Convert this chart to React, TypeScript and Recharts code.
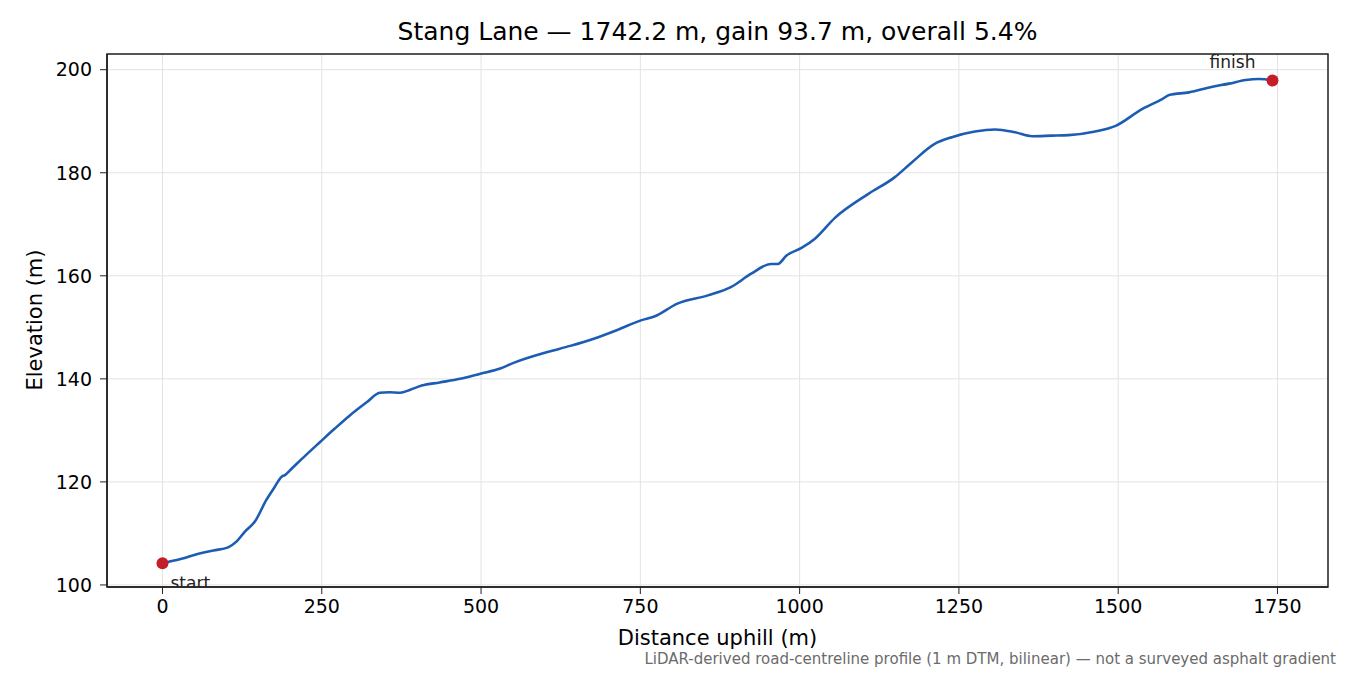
import React from "react";
import {
  LineChart,
  Line,
  XAxis,
  YAxis,
  CartesianGrid,
  ReferenceArea,
} from "recharts";

// distance along the road (m) and DTM elevation (m)
const distances = [
  0, 10, 27, 58, 80, 103, 116, 129, 145, 163, 176, 187, 192, 203, 225, 247,
  270, 294, 321, 341, 356, 373, 389, 407, 435, 467, 499, 530, 551, 604, 640,
  677, 714, 751, 772, 808, 856, 892, 924, 955, 966, 979, 1003, 1024, 1055,
  1108, 1149, 1176, 1212, 1239, 1275, 1307, 1338, 1365, 1395, 1422, 1464,
  1496, 1538, 1569, 1580, 1611, 1648, 1674, 1700, 1721, 1742.2,
];
const elevations = [
  104.2, 104.5, 105.0, 106.1, 106.7, 107.3, 108.4, 110.3, 112.3, 116.5, 119.0,
  121.0, 121.3, 122.6, 125.2, 127.7, 130.3, 132.9, 135.5, 137.3, 137.4, 137.3,
  137.9, 138.7, 139.3, 140.0, 141.0, 142.0, 143.1, 145.2, 146.4, 147.8, 149.5,
  151.35, 152.1, 154.6, 156.2, 157.8, 160.4, 162.3, 162.3, 163.9, 165.4,
  167.2, 171.2, 175.9, 179.1, 182.0, 185.6, 186.9, 188.0, 188.4, 187.85,
  187.1, 187.2, 187.3, 188.0, 189.1, 192.4, 194.3, 195.1, 195.6, 196.7, 197.3,
  198.0, 198.2, 197.9,
];
const xTicks = [0, 250, 500, 750, 1000, 1250, 1500, 1750];
const yTicks = [100, 120, 140, 160, 180, 200];
const endLabels = ["start", "finish"];

const X_DOMAIN: [number, number] = [-87.1, 1829.3];
const Y_DOMAIN: [number, number] = [99.6, 203.05];

const data = distances.map((d, i) => ({ d, e: elevations[i] }));

const FONT = "'DejaVu Sans', sans-serif";
const AXIS = "#222";

function EndDot(props: any) {
  const { cx, cy, index } = props;
  const last = data.length - 1;
  if (index !== 0 && index !== last) return <g key={index} />;
  const isStart = index === 0;
  return (
    <g key={index}>
      <circle cx={cx} cy={cy} r={6} fill="#c41e2b" />
      <text
        x={isStart ? cx + 8 : cx - 40}
        y={isStart ? cy + 26 : cy - 13}
        textAnchor={isStart ? "start" : "middle"}
        fontSize={17}
        fontFamily={FONT}
        fill="#222"
      >
        {isStart ? endLabels[0] : endLabels[1]}
      </text>
    </g>
  );
}

export default function App() {
  const tick = { fontSize: 19, fill: "#000", fontFamily: FONT };
  return (
    <div
      style={{
        position: "absolute",
        left: 0,
        top: 0,
        width: 1350,
        height: 675,
        background: "#fff",
        fontFamily: FONT,
      }}
    >
      <div
        style={{
          position: "absolute",
          left: 107,
          width: 1221,
          top: 17,
          textAlign: "center",
          fontSize: 25,
          color: "#000",
        }}
      >
        Stang Lane — 1742.2 m, gain 93.7 m, overall 5.4%
      </div>
      <div
        style={{
          position: "absolute",
          left: 107,
          width: 1221,
          top: 626,
          textAlign: "center",
          fontSize: 21,
          color: "#000",
        }}
      >
        Distance uphill (m)
      </div>
      <div
        style={{
          position: "absolute",
          left: 35,
          top: 320,
          fontSize: 21,
          color: "#000",
          whiteSpace: "nowrap",
          transform: "translate(-50%, -50%) rotate(-90deg)",
        }}
      >
        Elevation (m)
      </div>
      <div
        style={{
          position: "absolute",
          right: 14,
          top: 650,
          fontSize: 15,
          color: "#6b6b6b",
          whiteSpace: "nowrap",
        }}
      >
        LiDAR-derived road-centreline profile (1 m DTM, bilinear) — not a surveyed asphalt gradient
      </div>
      <LineChart
        width={1350}
        height={675}
        data={data}
        margin={{ top: 54, right: 22, bottom: 0, left: 0 }}
        style={{ position: "absolute", left: 0, top: 0 }}
      >
        <CartesianGrid stroke="#e3e3e3" strokeWidth={1} />
        <XAxis
          dataKey="d"
          type="number"
          domain={X_DOMAIN}
          ticks={xTicks}
          allowDataOverflow
          height={88}
          tick={tick}
          tickSize={7}
          tickMargin={6}
          stroke={AXIS}
          tickLine={{ stroke: AXIS }}
          axisLine={{ stroke: AXIS, strokeWidth: 1.5 }}
        />
        <YAxis
          type="number"
          domain={Y_DOMAIN}
          ticks={yTicks}
          allowDataOverflow
          width={107}
          tick={tick}
          tickSize={7}
          tickMargin={8}
          stroke={AXIS}
          tickLine={{ stroke: AXIS }}
          axisLine={{ stroke: AXIS, strokeWidth: 1.5 }}
        />
        <ReferenceArea
          x1={X_DOMAIN[0]}
          x2={X_DOMAIN[1]}
          y1={Y_DOMAIN[0]}
          y2={Y_DOMAIN[1]}
          fill="none"
          fillOpacity={0}
          stroke={AXIS}
          strokeWidth={1.5}
          ifOverflow="visible"
        />
        <Line
          type="monotone"
          dataKey="e"
          stroke="#1c5db3"
          strokeWidth={2.6}
          dot={<EndDot />}
          activeDot={false}
          isAnimationActive={false}
        />
      </LineChart>
    </div>
  );
}
